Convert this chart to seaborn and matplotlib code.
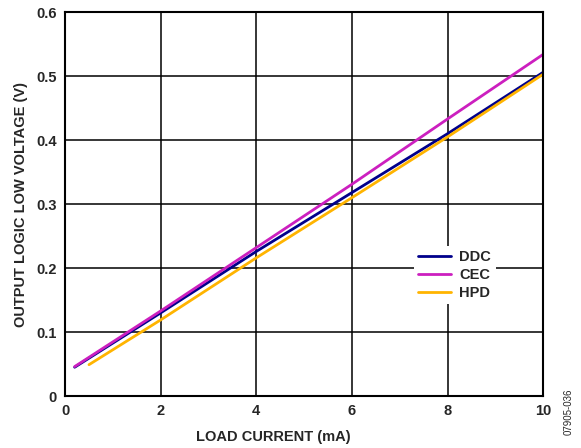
import numpy as np
import pandas as pd
import seaborn as sns
import matplotlib
matplotlib.use("Agg")
import matplotlib.pyplot as plt

# values
ddc_x = [0.2, 2, 4, 6, 8, 10]
ddc_y = [0.045, 0.130, 0.226, 0.318, 0.410, 0.506]
cec_x = [0.2, 2, 4, 6, 8, 10]
cec_y = [0.046, 0.133, 0.232, 0.331, 0.433, 0.534]
hpd_x = [0.5, 2, 4, 6, 8, 10]
hpd_y = [0.049, 0.119, 0.216, 0.310, 0.405, 0.503]

series = ["DDC", "CEC", "HPD"]
colors = {"DDC": "#00008b", "CEC": "#cc1fbf", "HPD": "#ffb400"}

df = pd.concat([
    pd.DataFrame({"x": ddc_x, "y": ddc_y, "s": "DDC"}),
    pd.DataFrame({"x": cec_x, "y": cec_y, "s": "CEC"}),
    pd.DataFrame({"x": hpd_x, "y": hpd_y, "s": "HPD"}),
])

sns.set_style("white")
plt.rcParams["font.family"] = ["Liberation Sans", "DejaVu Sans"]

fig = plt.figure(figsize=(5.81, 4.48), dpi=100)
ax = fig.add_axes([0.112, 0.116, 0.823, 0.857])

sns.lineplot(data=df, x="x", y="y", hue="s", hue_order=series, palette=colors,
             linewidth=2, ax=ax, sort=True, estimator=None)

ax.set_xlim(0, 10)
ax.set_ylim(0, 0.6)
ax.set_xticks([0, 2, 4, 6, 8, 10])
ax.set_yticks([0, 0.1, 0.2, 0.3, 0.4, 0.5, 0.6])
ax.set_yticklabels(["0", "0.1", "0.2", "0.3", "0.4", "0.5", "0.6"])
ax.grid(True, color="black", linewidth=1.1)
ax.tick_params(length=0, labelsize=10.5, pad=6)
for lab in ax.get_xticklabels() + ax.get_yticklabels():
    lab.set_fontweight("bold")
for sp in ax.spines.values():
    sp.set_color("black")
    sp.set_linewidth(1.5)

ax.set_xlabel("LOAD CURRENT (mA)", fontsize=10.5, fontweight="bold")
ax.xaxis.set_label_coords(0.435, -0.088)
ax.set_ylabel("OUTPUT LOGIC LOW VOLTAGE (V)", fontsize=10.5, fontweight="bold", labelpad=6)

leg = ax.legend(title=None, loc="center", bbox_to_anchor=(0.815, 0.315), frameon=True,
                fontsize=10.5, handlelength=2.2, handletextpad=0.6, borderpad=0.3,
                labelspacing=0.25)
leg.get_frame().set_edgecolor("none")
leg.get_frame().set_facecolor("white")
leg.get_frame().set_alpha(1)
for t in leg.get_texts():
    t.set_fontweight("bold")

fig.text(0.978, 0.08, "07905-036", rotation=90, fontsize=7, ha="center", va="center")

fig.savefig("out.png", dpi=100)
